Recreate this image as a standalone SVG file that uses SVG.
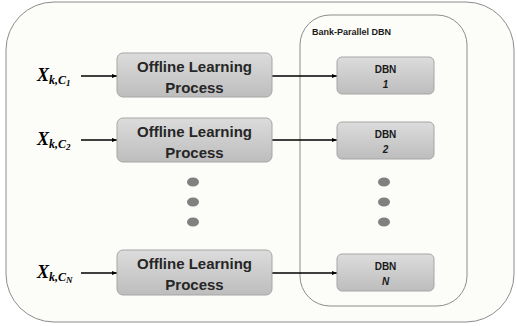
<svg xmlns="http://www.w3.org/2000/svg" width="517" height="326" viewBox="0 0 517 326">
<defs>
<linearGradient id="g" x1="0" y1="0" x2="0" y2="1">
<stop offset="0" stop-color="#dcdcdc"/>
<stop offset="1" stop-color="#bdbdbd"/>
</linearGradient>
<marker id="ah" viewBox="0 0 10 10" refX="10" refY="5" markerWidth="5" markerHeight="5" orient="auto" markerUnits="userSpaceOnUse">
<path d="M0,1 L10,5 L0,9 z" fill="#000"/>
</marker>
</defs>
<style>
.box{fill:url(#g);stroke:#a6a6a6;stroke-width:1}
.olp{font-family:"Liberation Sans",Arial,sans-serif;font-weight:bold;font-size:15px;fill:#262626;text-anchor:middle}
.dbn{font-family:"Liberation Sans",Arial,sans-serif;font-weight:bold;font-size:10px;fill:#1a1a1a;text-anchor:middle}
.x{font-family:"Liberation Serif","Times New Roman",serif;font-weight:bold;font-style:italic;fill:#000}
.conn{stroke:#000;stroke-width:1.3;fill:none;marker-end:url(#ah)}
.dot{fill:#808080}
</style>
<rect id="outer" x="6" y="2" width="508" height="320" rx="48" ry="48" fill="#fcfcf9" stroke="#8c8c8c" stroke-width="1"/>
<g id="bank">
<rect x="300" y="15" width="167" height="291" rx="30" ry="30" fill="none" stroke="#8c8c8c" stroke-width="1"/>
<text x="312" y="35" font-family="Liberation Sans,Arial,sans-serif" font-weight="bold" font-size="9" fill="#1a1a1a">Bank-Parallel DBN</text>
</g>
<g id="connectors">
<line class="conn" x1="81" y1="76" x2="117" y2="76"/>
<line class="conn" x1="81" y1="140" x2="117" y2="140"/>
<line class="conn" x1="81" y1="273" x2="117" y2="273"/>
<line class="conn" x1="272" y1="76" x2="337" y2="76"/>
<line class="conn" x1="272" y1="140" x2="337" y2="140"/>
<line class="conn" x1="272" y1="273" x2="337" y2="273"/>
</g>
<g id="x1"><text class="x" x="37" y="81" font-size="18">X<tspan font-size="12" dy="3">k,C</tspan><tspan font-size="9" dy="2">1</tspan></text></g>
<g id="x2"><text class="x" x="37" y="145" font-size="18">X<tspan font-size="12" dy="3">k,C</tspan><tspan font-size="9" dy="2">2</tspan></text></g>
<g id="xN"><text class="x" x="37" y="278" font-size="18">X<tspan font-size="12" dy="3">k,C</tspan><tspan font-size="9" dy="2">N</tspan></text></g>
<g id="olp1"><rect class="box" x="117" y="53" width="155" height="44" rx="6"/><text class="olp" x="194.5" y="72">Offline Learning</text><text class="olp" x="194.5" y="93">Process</text></g>
<g id="olp2"><rect class="box" x="117" y="118" width="155" height="44" rx="6"/><text class="olp" x="194.5" y="137">Offline Learning</text><text class="olp" x="194.5" y="158">Process</text></g>
<g id="olpN"><rect class="box" x="117" y="250" width="155" height="45" rx="6"/><text class="olp" x="194.5" y="269">Offline Learning</text><text class="olp" x="194.5" y="290">Process</text></g>
<g id="dbn1"><rect class="box" x="337" y="57" width="97" height="37" rx="5"/><text class="dbn" x="385.5" y="73">DBN</text><text class="dbn" x="385.5" y="88" font-style="italic" font-size="11">1</text></g>
<g id="dbn2"><rect class="box" x="337" y="122" width="97" height="37" rx="5"/><text class="dbn" x="385.5" y="138">DBN</text><text class="dbn" x="385.5" y="153" font-style="italic" font-size="11">2</text></g>
<g id="dbnN"><rect class="box" x="337" y="254" width="97" height="37" rx="5"/><text class="dbn" x="385.5" y="270">DBN</text><text class="dbn" x="385.5" y="285" font-style="italic" font-size="11">N</text></g>
<g id="dots-left"><ellipse class="dot" cx="193" cy="182" rx="6" ry="4.5"/><ellipse class="dot" cx="193" cy="202" rx="6" ry="4.5"/><ellipse class="dot" cx="193" cy="222" rx="6" ry="4.5"/></g>
<g id="dots-right"><ellipse class="dot" cx="384" cy="182" rx="6" ry="4.5"/><ellipse class="dot" cx="384" cy="202" rx="6" ry="4.5"/><ellipse class="dot" cx="384" cy="222" rx="6" ry="4.5"/></g>
</svg>
